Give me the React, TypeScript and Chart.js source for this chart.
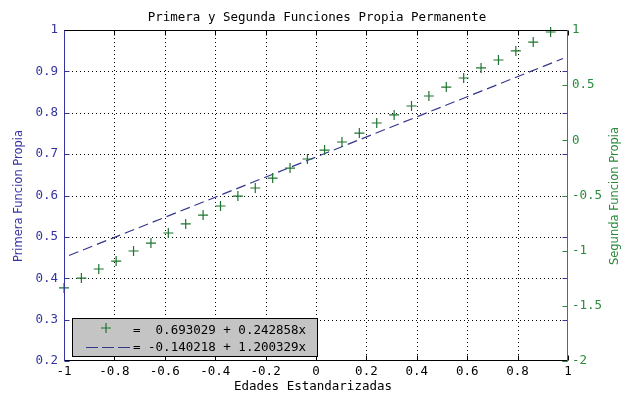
import React, { useEffect, useRef } from "react";
import { Chart, registerables } from "chart.js";

Chart.register(...registerables);

// ---- data ----
const TITLE = "Primera y Segunda Funciones Propia Permanente";
const X_TITLE = "Edades Estandarizadas";
const Y_LEFT_TITLE = "Primera Funcion Propia";
const Y_RIGHT_TITLE = "Segunda Funcion Propia";
const LEGEND_TEXTS = ["=  0.693029 + 0.242858x", "= -0.140218 + 1.200329x"];

// standardized ages (x) for the "+" markers
const edades = [
  -1.0, -0.931, -0.862, -0.793, -0.724, -0.655, -0.586, -0.517, -0.448, -0.379,
  -0.31, -0.241, -0.172, -0.103, -0.034, 0.034, 0.103, 0.172, 0.241, 0.31,
  0.379, 0.448, 0.517, 0.586, 0.655, 0.724, 0.793, 0.862, 0.931,
];
// second eigenfunction values (right axis)
const segunda = [
  -1.338, -1.248, -1.166, -1.094, -1.003, -0.931, -0.84, -0.758, -0.677, -0.595,
  -0.505, -0.432, -0.342, -0.251, -0.169, -0.088, -0.015, 0.066, 0.157, 0.23,
  0.311, 0.402, 0.483, 0.565, 0.656, 0.728, 0.81, 0.891, 0.982,
];
// first eigenfunction (left axis), dashed line
const primeraX = [-0.98, 0.98];
const primeraY = [0.455, 0.931];

const xTicks = [-1, -0.8, -0.6, -0.4, -0.2, 0, 0.2, 0.4, 0.6, 0.8, 1];
const yLeftTicks = [0.2, 0.3, 0.4, 0.5, 0.6, 0.7, 0.8, 0.9, 1];
const yRightTicks = [-2, -1.5, -1, -0.5, 0, 0.5, 1];

const BLUE = "#3434a0";
const GREEN = "#2a8a3a";
const MARK_GREEN = "#1f7430";
const DASH_BLUE = "#35358f";
const MONO = "'DejaVu Sans Mono', monospace";
const SANS = "'DejaVu Sans', sans-serif";

const fmt = (v: number) => String(Number(v.toFixed(2)));

const decorPlugin = {
  id: "decor",
  beforeDatasetsDraw(chart: any) {
    const { ctx, chartArea: a, scales } = chart;
    ctx.save();
    ctx.strokeStyle = "#000";
    ctx.lineWidth = 1;
    ctx.setLineDash([1, 3]);
    for (const v of xTicks) {
      const px = Math.round(scales.x.getPixelForValue(v)) + 0.5;
      if (px < a.left + 2 || px > a.right - 2) continue;
      ctx.beginPath();
      ctx.moveTo(px, a.top);
      ctx.lineTo(px, a.bottom);
      ctx.stroke();
    }
    for (const v of yLeftTicks) {
      const py = Math.round(scales.y.getPixelForValue(v)) + 0.5;
      if (py < a.top + 2 || py > a.bottom - 2) continue;
      ctx.beginPath();
      ctx.moveTo(a.left, py);
      ctx.lineTo(a.right, py);
      ctx.stroke();
    }
    ctx.restore();
  },
  afterDatasetsDraw(chart: any) {
    const { ctx, chartArea: a, scales } = chart;
    const L = Math.round(a.left) + 0.5;
    const R = Math.round(a.right) - 0.5;
    const T = Math.round(a.top) + 0.5;
    const B = Math.round(a.bottom) - 0.5;
    ctx.save();
    ctx.setLineDash([]);
    ctx.lineWidth = 1;
    // tick marks
    const tl = 5;
    ctx.strokeStyle = "#000";
    for (const v of xTicks) {
      const px = Math.round(scales.x.getPixelForValue(v)) + 0.5;
      ctx.beginPath();
      ctx.moveTo(px, B);
      ctx.lineTo(px, B - tl);
      ctx.moveTo(px, T);
      ctx.lineTo(px, T + tl);
      ctx.stroke();
    }
    ctx.strokeStyle = BLUE;
    for (const v of yLeftTicks) {
      const py = Math.round(scales.y.getPixelForValue(v)) + 0.5;
      ctx.beginPath();
      ctx.moveTo(L, py);
      ctx.lineTo(L + tl, py);
      ctx.moveTo(R, py);
      ctx.lineTo(R - tl, py);
      ctx.stroke();
    }
    ctx.strokeStyle = GREEN;
    for (const v of yRightTicks) {
      const py = Math.round(scales.y2.getPixelForValue(v)) + 0.5;
      ctx.beginPath();
      ctx.moveTo(R, py);
      ctx.lineTo(R - tl, py);
      ctx.stroke();
    }
    // box
    ctx.strokeStyle = "#000";
    ctx.beginPath();
    ctx.moveTo(L, T);
    ctx.lineTo(R, T);
    ctx.moveTo(L, B);
    ctx.lineTo(R, B);
    ctx.stroke();
    ctx.strokeStyle = BLUE;
    ctx.beginPath();
    ctx.moveTo(L, T);
    ctx.lineTo(L, B + 0.5);
    ctx.stroke();
    ctx.strokeStyle = GREEN;
    ctx.beginPath();
    ctx.moveTo(R, T);
    ctx.lineTo(R, B + 0.5);
    ctx.stroke();

    // legend box
    const bx = 72.5, by = 318.5, bw = 245, bh = 38;
    ctx.fillStyle = "#c4c4c4";
    ctx.fillRect(bx, by, bw, bh);
    ctx.strokeStyle = "#000";
    ctx.strokeRect(bx, by, bw, bh);
    // legend marker +
    ctx.strokeStyle = MARK_GREEN;
    ctx.lineWidth = 1.2;
    ctx.beginPath();
    ctx.moveTo(101, 328);
    ctx.lineTo(111, 328);
    ctx.moveTo(106, 323);
    ctx.lineTo(106, 333);
    ctx.stroke();
    // legend dashed sample
    ctx.strokeStyle = DASH_BLUE;
    ctx.lineWidth = 1.2;
    ctx.setLineDash([12, 4]);
    ctx.beginPath();
    ctx.moveTo(86, 347.5);
    ctx.lineTo(132, 347.5);
    ctx.stroke();
    ctx.setLineDash([]);
    ctx.fillStyle = "#000";
    ctx.font = `12.5px ${MONO}`;
    ctx.textAlign = "left";
    ctx.textBaseline = "middle";
    ctx.fillText(LEGEND_TEXTS[0], 133, 331);
    ctx.fillText(LEGEND_TEXTS[1], 133, 348);

    // titles
    ctx.fillStyle = "#000";
    ctx.textAlign = "center";
    ctx.font = `12.5px ${MONO}`;
    ctx.fillText(TITLE, 317, 18);
    ctx.fillText(X_TITLE, 313, 387);

    ctx.font = `11.5px ${SANS}`;
    ctx.fillStyle = BLUE;
    ctx.save();
    ctx.translate(19, 196);
    ctx.rotate(-Math.PI / 2);
    ctx.fillText(Y_LEFT_TITLE, 0, 0);
    ctx.restore();
    ctx.fillStyle = GREEN;
    ctx.save();
    ctx.translate(615, 196);
    ctx.rotate(-Math.PI / 2);
    ctx.fillText(Y_RIGHT_TITLE, 0, 0);
    ctx.restore();
    ctx.restore();
  },
};

export default function App() {
  const ref = useRef<HTMLCanvasElement | null>(null);
  useEffect(() => {
    if (!ref.current) return;
    const chart = new Chart(ref.current, {
      type: "scatter",
      data: {
        datasets: [
          {
            label: "Segunda",
            data: edades.map((x, i) => ({ x, y: segunda[i] })),
            yAxisID: "y2",
            showLine: false,
            clip: false,
            pointStyle: "cross",
            pointRadius: 5,
            pointBorderWidth: 1.2,
            pointBorderColor: MARK_GREEN,
            pointBackgroundColor: MARK_GREEN,
            order: 1,
          },
          {
            label: "Primera",
            data: primeraX.map((x, i) => ({ x, y: primeraY[i] })),
            yAxisID: "y",
            showLine: true,
            clip: false,
            borderColor: DASH_BLUE,
            borderWidth: 1.2,
            borderDash: [10, 5],
            pointRadius: 0,
            fill: false,
            order: 2,
          },
        ],
      },
      options: {
        animation: false,
        responsive: false,
        devicePixelRatio: 1,
        layout: { padding: { top: 30, left: 0, right: 0, bottom: 0 } },
        plugins: { legend: { display: false }, tooltip: { enabled: false }, title: { display: false } },
        scales: {
          x: {
            type: "linear",
            min: -1,
            max: 1,
            afterFit: (s: any) => { s.height = 33; },
            afterBuildTicks: (s: any) => { s.ticks = xTicks.map((v) => ({ value: v })); },
            grid: { display: false, drawTicks: false },
            border: { display: false },
            ticks: {
              padding: 3,
              color: "#000",
              font: { family: MONO, size: 12.5 },
              callback: (v: any) => fmt(Number(v)),
              maxRotation: 0,
              autoSkip: false,
            },
          },
          y: {
            type: "linear",
            position: "left",
            min: 0.2,
            max: 1,
            afterFit: (s: any) => { s.width = 64; },
            afterBuildTicks: (s: any) => { s.ticks = yLeftTicks.map((v) => ({ value: v })); },
            grid: { display: false, drawTicks: false },
            border: { display: false },
            ticks: {
              padding: 6,
              color: BLUE,
              font: { family: MONO, size: 12.5 },
              callback: (v: any) => fmt(Number(v)),
              autoSkip: false,
            },
          },
          y2: {
            type: "linear",
            position: "right",
            min: -2,
            max: 1,
            afterFit: (s: any) => { s.width = 64; },
            afterBuildTicks: (s: any) => { s.ticks = yRightTicks.map((v) => ({ value: v })); },
            grid: { display: false, drawTicks: false },
            border: { display: false },
            ticks: {
              padding: 4,
              color: GREEN,
              font: { family: MONO, size: 12.5 },
              callback: (v: any) => fmt(Number(v)),
              autoSkip: false,
            },
          },
        },
      },
      plugins: [decorPlugin],
    } as any);
    return () => chart.destroy();
  }, []);
  return (
    <div style={{ position: "fixed", left: 0, top: 0, width: 632, height: 394, background: "#fff" }}>
      <canvas ref={ref} width={632} height={394} />
    </div>
  );
}
